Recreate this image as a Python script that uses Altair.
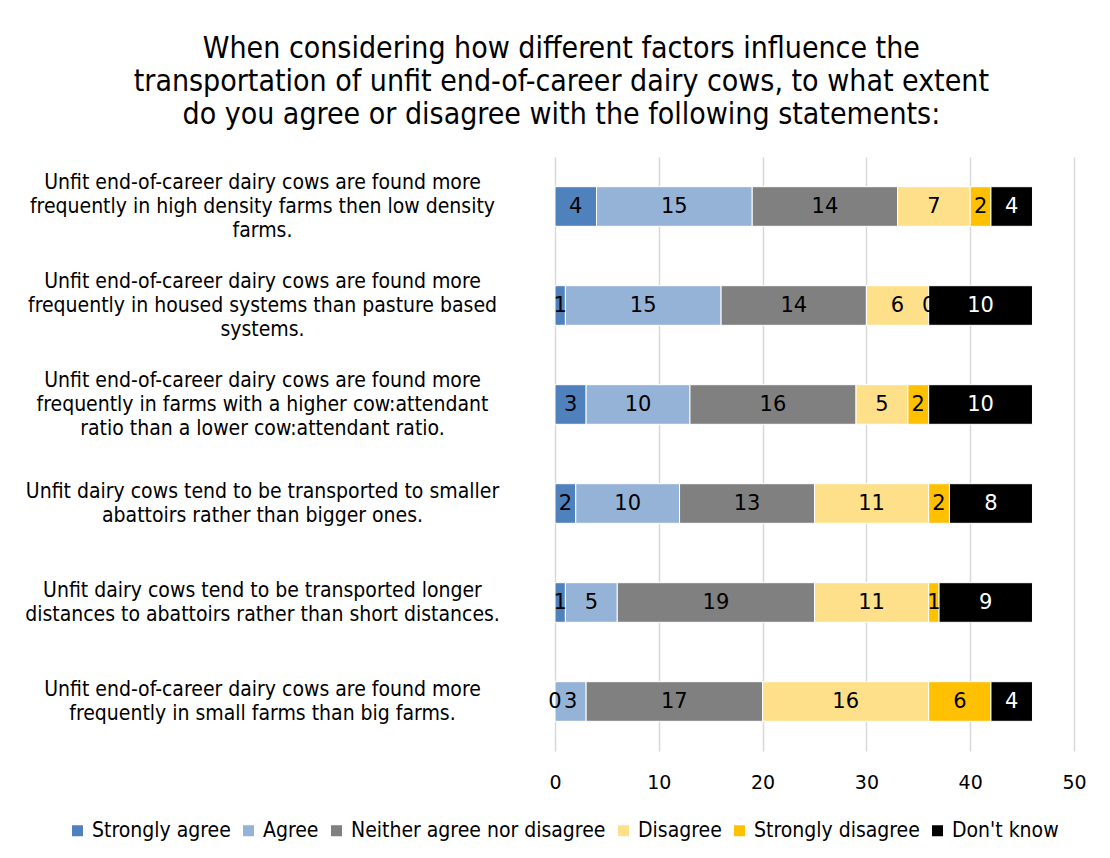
import altair as alt
import pandas as pd

categories = [
    "Unfit end-of-career dairy cows are found more\nfrequently in high density farms then low density\nfarms.",
    "Unfit end-of-career dairy cows are found more\nfrequently in housed systems than pasture based\nsystems.",
    "Unfit end-of-career dairy cows are found more\nfrequently in farms with a higher cow:attendant\nratio than a lower cow:attendant ratio.",
    "Unfit dairy cows tend to be transported to smaller\nabattoirs rather than bigger ones.",
    "Unfit dairy cows tend to be transported longer\ndistances to abattoirs rather than short distances.",
    "Unfit end-of-career dairy cows are found more\nfrequently in small farms than big farms.",
]
series = ["Strongly agree", "Agree", "Neither agree nor disagree",
          "Disagree", "Strongly disagree", "Don't know"]
colors = ["#4f81bd", "#95b3d7", "#808080", "#ffe08a", "#ffc000", "#000000"]

strongly_agree = [4, 1, 3, 2, 1, 0]
agree = [15, 15, 10, 10, 5, 3]
neither = [14, 14, 16, 13, 19, 17]
disagree = [7, 6, 5, 11, 11, 16]
strongly_disagree = [2, 0, 2, 2, 1, 6]
dont_know = [4, 10, 10, 8, 9, 4]

x_ticks = [0, 10, 20, 30, 40, 50]

values = [strongly_agree, agree, neither, disagree, strongly_disagree, dont_know]
rows = []
for si, (s, vals) in enumerate(zip(series, values)):
    for ci, c in enumerate(categories):
        rows.append({"category": c, "series": s, "order": si, "value": vals[ci]})
df = pd.DataFrame(rows)

title_lines = [
    "When considering how different factors influence the",
    "transportation of unfit end-of-career dairy cows, to what extent",
    "do you agree or disagree with the following statements:",
]

FONT = "DejaVu Sans Condensed"
FONT_REG = "DejaVu Sans"

base = alt.Chart(df).transform_stack(
    stack="value", groupby=["category"], as_=["x0", "x1"],
    sort=[alt.SortField("order", order="ascending")],
).transform_calculate(mid="(datum.x0 + datum.x1) / 2")

y_enc = alt.Y(
    "category:N", sort=categories, title=None,
    scale=alt.Scale(paddingInner=0.6, paddingOuter=0.3),
    axis=alt.Axis(
        labelExpr="split(datum.label, '\\n')",
        labelAlign="center", labelBaseline="middle",
        labelOffset=alt.condition("length(split(datum.value, '\\n')) == 3",
                                  alt.value(-24), alt.value(-12)),
        labelPadding=293, labelFont=FONT, labelFontSize=21,
        labelLineHeight=24, labelColor="#000000",
        ticks=False, domain=False, labelLimit=0,
    ),
)

bars = base.mark_bar(stroke="white", strokeWidth=1).encode(
    y=y_enc,
    x=alt.X(
        "x0:Q", title=None,
        scale=alt.Scale(domain=[0, 50], nice=False),
        axis=alt.Axis(values=x_ticks, grid=True, gridColor="#d9d9d9",
                      gridWidth=1.5, domain=False, ticks=False,
                      labelFont=FONT_REG, labelFontSize=19, labelColor="#000000",
                      labelPadding=22, labelFlush=False),
    ),
    x2="x1:Q",
    color=alt.Color(
        "series:N", sort=series,
        scale=alt.Scale(domain=series, range=colors),
        legend=alt.Legend(
            title=None, orient="none", direction="horizontal", columns=6,
            legendX=-488, legendY=663,
            symbolType="square", symbolSize=121, symbolStrokeWidth=0,
            labelFont=FONT, labelFontSize=21, labelColor="#000000",
            labelOffset=4, columnPadding=7, labelLimit=0,
        ),
    ),
    order=alt.Order("order:Q"),
)

labels = base.mark_text(font=FONT_REG, fontSize=21, baseline="middle", align="center").encode(
    y=alt.Y("category:N", sort=categories),
    x=alt.X("mid:Q"),
    text=alt.Text("value:Q"),
    color=alt.condition(alt.datum.series == "Don't know",
                        alt.value("white"), alt.value("black")),
)

chart = (bars + labels).properties(
    width=519, height=594,
    padding={"left": 16, "top": 26, "right": 5, "bottom": 5},
    title=alt.TitleParams(
        text=title_lines, font=FONT, fontSize=30, fontWeight="normal",
        color="#000000", lineHeight=33, anchor="middle", frame="bounds",
        offset=27, dx=6,
    ),
).configure_view(stroke=None)

chart.save("out.html", embed_options={"renderer": "svg", "actions": False})
